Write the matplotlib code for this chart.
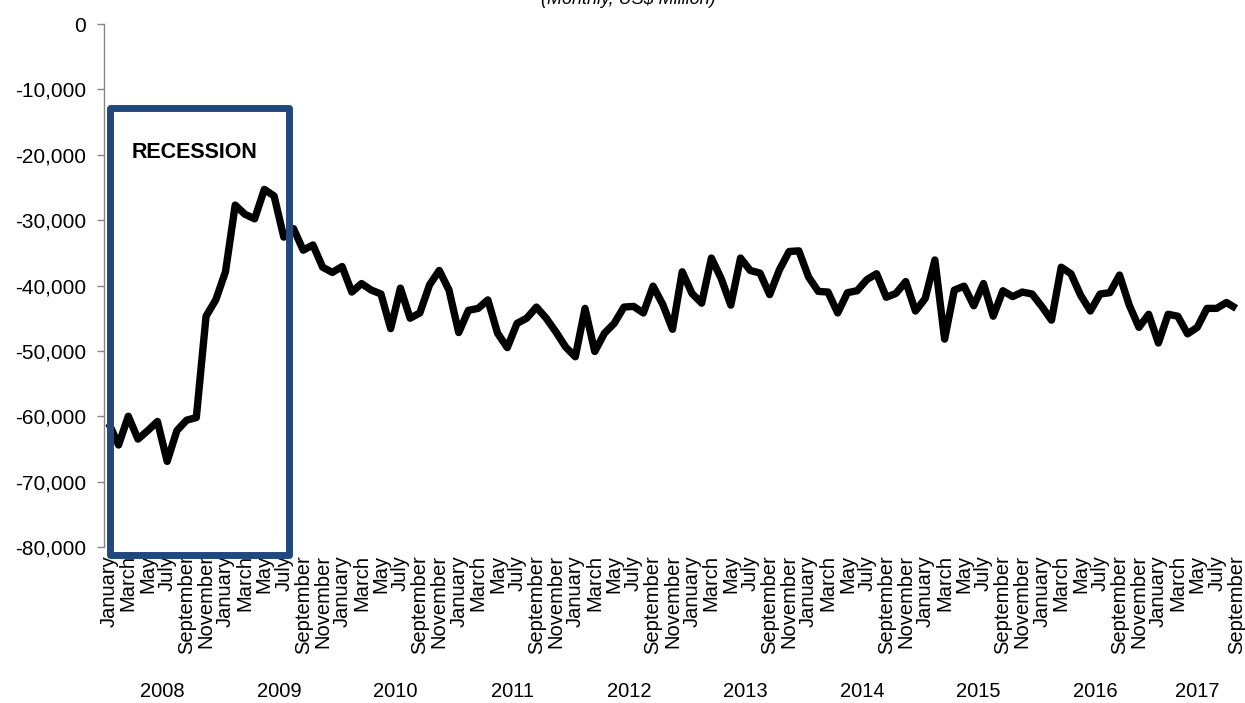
import matplotlib.pyplot as plt
from matplotlib.patches import Rectangle
from matplotlib.ticker import FuncFormatter

plt.rcParams['font.family'] = ['Liberation Sans', 'DejaVu Sans']

# Monthly balance, US$ million
years = [2008, 2009, 2010, 2011, 2012, 2013, 2014, 2015, 2016, 2017]
month_names = ['January', 'February', 'March', 'April', 'May', 'June',
               'July', 'August', 'September', 'October', 'November', 'December']

bal_2008 = [-61100, -64400, -60000, -63500, -62200, -60800,
            -66900, -62200, -60600, -60200, -44700, -42200]
bal_2009 = [-37900, -27700, -29100, -29800, -25300, -26300,
            -32600, -31300, -34600, -33800, -37200, -38000]
bal_2010 = [-37100, -41000, -39700, -40700, -41300, -46600,
            -40400, -45000, -44200, -39900, -37700, -40700]
bal_2011 = [-47200, -43800, -43500, -42200, -47300, -49500,
            -45800, -45000, -43300, -45000, -47100, -49400]
bal_2012 = [-50900, -43500, -50100, -47300, -45800, -43300,
            -43200, -44200, -40100, -42900, -46700, -37900]
bal_2013 = [-41200, -42700, -35800, -38900, -43000, -35800,
            -37700, -38100, -41400, -37600, -34800, -34700]
bal_2014 = [-38700, -40900, -41000, -44200, -41100, -40800,
            -39100, -38200, -41800, -41200, -39400, -43900]
bal_2015 = [-42000, -36100, -48200, -40700, -40100, -43100,
            -39700, -44700, -40800, -41700, -41000, -41300]
bal_2016 = [-43200, -45300, -37200, -38200, -41500, -43900,
            -41300, -41100, -38400, -43000, -46400, -44400]
bal_2017 = [-48800, -44400, -44700, -47400, -46400, -43500,
            -43500, -42600, -43500]

balance = (bal_2008 + bal_2009 + bal_2010 + bal_2011 + bal_2012 +
           bal_2013 + bal_2014 + bal_2015 + bal_2016 + bal_2017)
year_lengths = [len(b) for b in (bal_2008, bal_2009, bal_2010, bal_2011, bal_2012,
                                 bal_2013, bal_2014, bal_2015, bal_2016, bal_2017)]

labels = []
for n in year_lengths:
    labels += month_names[:n]
x = list(range(len(balance)))

recession_start = 0   # January 2008
recession_end = 18    # July 2009

fig = plt.figure(figsize=(12.45, 7.03), dpi=100)
ax = fig.add_axes([104 / 1245, 1 - 547 / 703, 1137 / 1245, 523 / 703])

ax.plot(x, balance, color='black', lw=5.3, solid_joinstyle='round',
        solid_capstyle='butt', zorder=3)

ax.set_xlim(-0.5, len(balance) - 0.5)
ax.set_ylim(-80000, 0)
ax.set_yticks(range(-80000, 1, 10000))
ax.yaxis.set_major_formatter(FuncFormatter(lambda v, p: f'{int(v):,}'))

# every other month gets a label
ax.set_xticks(x[::2])
ax.set_xticklabels(labels[::2], rotation=90, va='top', ha='center')
ax.tick_params(axis='x', length=0, pad=6, labelsize=14.5)
ax.tick_params(axis='y', length=5, width=1, color='#868686', pad=8, labelsize=15)

for side in ['top', 'right', 'bottom']:
    ax.spines[side].set_visible(False)
ax.spines['left'].set_color('#868686')
ax.spines['left'].set_linewidth(1)

# year labels under the month groups
start = 0
for yr, n in zip(years, year_lengths):
    ax.text(start + (n - 1) / 2, -0.277, str(yr), transform=ax.get_xaxis_transform(),
            ha='center', va='center', fontsize=14.5)
    start += n

# recession box
box = Rectangle((recession_start + 0.16, -81200), recession_end - recession_start + 0.41,
                68300, fill=False, ec='#1F497D', lw=5, joinstyle='round',
                clip_on=False, zorder=4)
ax.add_patch(box)
ax.text(recession_start + 2.3, -19600, 'RECESSION', fontsize=15.5, fontweight='bold',
        ha='left', va='center', zorder=5)

fig.text(628 / 1245, 1.0, '(Monthly, US$ Million)', style='italic', fontsize=13,
         ha='center', va='center')

fig.savefig('out.png', dpi=100)
